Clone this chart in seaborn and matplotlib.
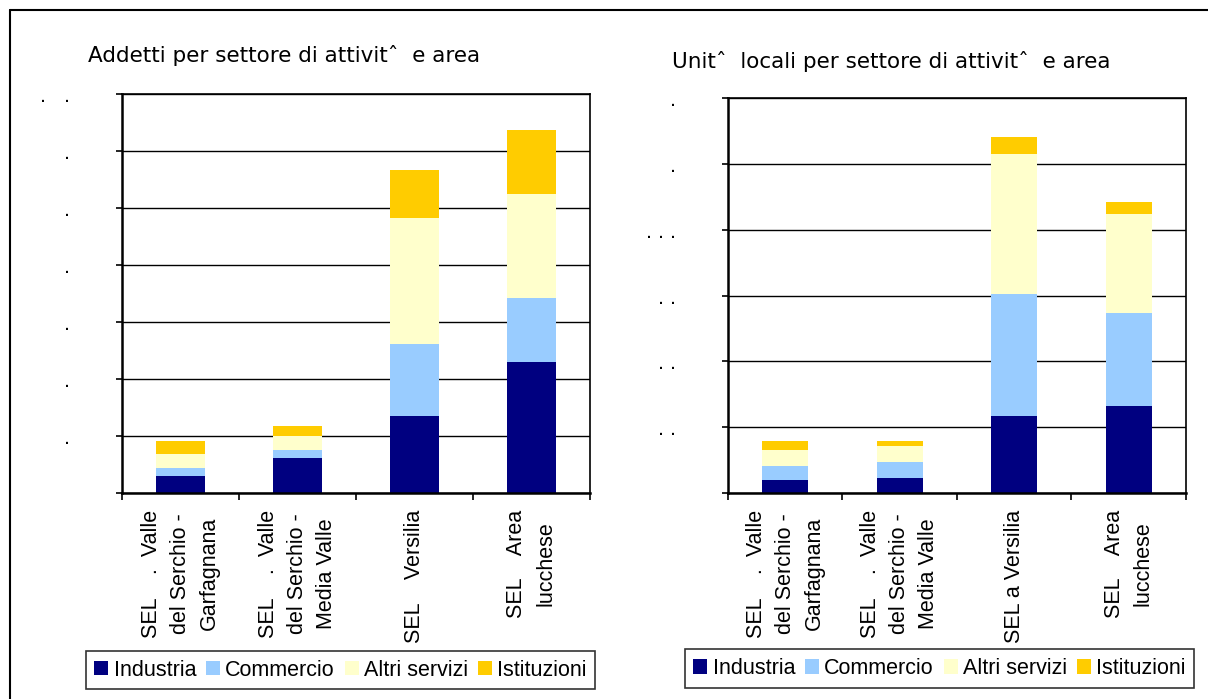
# Addetti e unità locali per settore di attività e area (SEL provincia di Lucca)
import numpy as np
import pandas as pd
import matplotlib
matplotlib.use("Agg")
import matplotlib.pyplot as plt
from matplotlib.patches import Patch
from matplotlib.lines import Line2D
import seaborn as sns

# --- dati ---
settori = ["Industria", "Commercio", "Altri servizi", "Istituzioni"]
colori = ["#000080", "#99CCFF", "#FFFFCC", "#FFCC00"]

aree_addetti = ["SEL    .  Valle\ndel Serchio -\nGarfagnana",
                "SEL    .  Valle\ndel Serchio -\nMedia Valle",
                "SEL    Versilia",
                "SEL    Area\nlucchese"]
aree_unita = ["SEL    .  Valle\ndel Serchio -\nGarfagnana",
              "SEL    .  Valle\ndel Serchio -\nMedia Valle",
              "SEL a Versilia",
              "SEL    Area\nlucchese"]

industria_addetti = [3000, 6150, 13500, 22950]
commercio_addetti = [1400, 1400, 12600, 11200]
altri_addetti = [2450, 2450, 22100, 18200]
istituzioni_addetti = [2300, 1750, 8400, 11200]

industria_unita = [200, 230, 1170, 1320]
commercio_unita = [215, 245, 1855, 1415]
altri_unita = [245, 245, 2125, 1505]
istituzioni_unita = [135, 75, 260, 180]

# etichette asse y (nell'originale restano solo i punti)
ytick_addetti = ["", ".", ".", ".", ".", ".", ".", ".   ."]
ytick_unita = ["", ". .", ". .", ". .", ". . .", ".", "."]

titolo_addetti = "Addetti per settore di attivitˆ  e area"
titolo_unita = "Unitˆ  locali per settore di attivitˆ  e area"

sns.set_style("white")
plt.rcParams['font.family'] = ['Liberation Sans', 'DejaVu Sans']
plt.rcParams['text.color'] = 'black'
plt.rcParams['xtick.color'] = 'black'
plt.rcParams['ytick.color'] = 'black'
plt.rcParams['axes.labelcolor'] = 'black'

fig = plt.figure(figsize=(12.08, 6.99), dpi=100)
ax1 = fig.add_axes([0.101, 0.2947, 0.3874, 0.5715])
ax2 = fig.add_axes([0.6026, 0.2947, 0.3791, 0.5651])


def disegna(ax, aree, valori, passo, n_tick, etichette_y, larghezza):
    df = pd.DataFrame(dict(zip(settori, valori)), index=aree)
    cum = df.cumsum(axis=1)
    # barre sovrapposte: dal totale verso il basso
    for s, c in reversed(list(zip(settori, colori))):
        sns.barplot(x=aree, y=cum[s].tolist(), order=aree, color=c,
                    saturation=1, width=larghezza, linewidth=0, ax=ax)
    ax.set_xlabel("")
    ax.set_ylabel("")
    ax.set_xlim(-0.5, len(aree) - 0.5)
    ax.set_ylim(0, passo * n_tick)
    ax.set_yticks(np.arange(n_tick + 1) * passo)
    ax.set_yticklabels(etichette_y)
    ax.set_xticks(range(len(aree)))
    ax.set_xticklabels(aree, rotation=90, ha="center", va="top",
                       linespacing=1.5)
    ax.set_xticks(np.arange(-0.5, len(aree), 1), minor=True)
    ax.tick_params(axis="x", which="major", length=0, pad=12, labelsize=15.5)
    ax.tick_params(axis="x", which="minor", bottom=True, length=5,
                   width=1.2, color="black", direction="out")
    ax.tick_params(axis="y", left=True, length=4.5, width=1.2,
                   color="black", direction="out", pad=33, labelsize=15.5)
    ax.yaxis.grid(True, color="black", linewidth=1)
    ax.set_axisbelow(True)
    for nome, sp in ax.spines.items():
        sp.set_visible(True)
        sp.set_color("black")
        sp.set_linewidth(1.8 if nome in ("left", "bottom") else 1.2)


disegna(ax1, aree_addetti,
        [industria_addetti, commercio_addetti, altri_addetti, istituzioni_addetti],
        10000, 7, ytick_addetti, 0.42)
disegna(ax2, aree_unita,
        [industria_unita, commercio_unita, altri_unita, istituzioni_unita],
        1000, 6, ytick_unita, 0.40)

# titoli
fig.text(88 / 1208, 1 - 55 / 699, titolo_addetti, ha="left", va="center",
         fontsize=15.5, family=["DejaVu Sans"])
fig.text(672 / 1208, 1 - 62 / 699, titolo_unita, ha="left", va="center",
         fontsize=15.5, family=["DejaVu Sans"])

# legende
maniglie = [Patch(facecolor=c, edgecolor="none", label=s)
            for s, c in zip(settori, colori)]
for cx, cy in [(340.5 / 1208, 1 - 670 / 699), (939.5 / 1208, 1 - 668.5 / 699)]:
    leg = fig.legend(handles=maniglie, ncol=4, loc="center",
                     bbox_to_anchor=(cx, cy), bbox_transform=fig.transFigure,
                     frameon=True, fancybox=False, edgecolor="black",
                     fontsize=15.5, handlelength=0.65, handleheight=0.65,
                     handletextpad=0.25, columnspacing=0.45, borderpad=0.4)
    leg.get_frame().set_linewidth(1.2)

# cornice esterna
fig.add_artist(Line2D([10 / 1208, 1], [1 - 10 / 699] * 2,
                      transform=fig.transFigure, color="black", lw=1.5))
fig.add_artist(Line2D([10 / 1208] * 2, [0, 1 - 10 / 699],
                      transform=fig.transFigure, color="black", lw=1.5))

fig.savefig("out.png", dpi=100)
